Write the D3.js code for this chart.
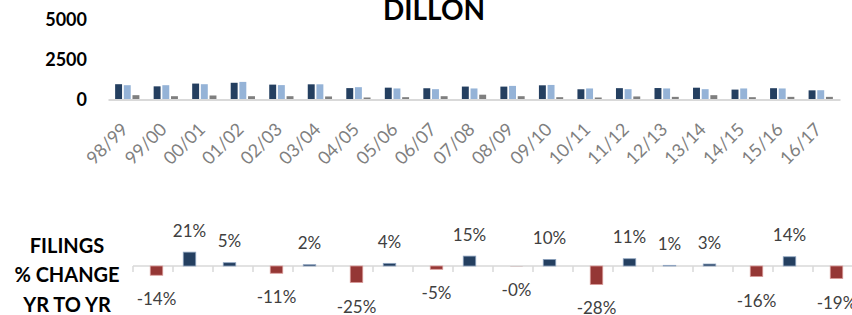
<!DOCTYPE html>
<html>
<head>
<meta charset="utf-8">
<script src="https://cdn.jsdelivr.net/npm/d3@7"></script>
<style>
  body { margin: 0; background: #fff; }
  text { font-family: Lato, "Open Sans", sans-serif; }
</style>
</head>
<body>
<div id="chart"></div>
<script>
// Data
let years = ["98/99", "99/00", "00/01", "01/02", "02/03", "03/04", "04/05", "05/06", "06/07", "07/08",
    "08/09", "09/10", "10/11", "11/12", "12/13", "13/14", "14/15", "15/16", "16/17"];
let seriesNames = ["filed", "disposed", "pending"];
let filed = [956, 822, 995, 1045, 930, 949, 712, 740, 703, 808, 806, 887, 639, 709, 716, 737, 619, 706, 572];
let disposed = [894, 894, 956, 1100, 900, 950, 770, 690, 645, 690, 850, 910, 690, 645, 690, 645, 690, 690, 580];
let pending = [270, 206, 250, 206, 206, 190, 125, 145, 206, 300, 206, 145, 125, 190, 165, 270, 145, 165, 165];
let yTicks = [0, 2500, 5000];

// year-to-year % change in filings (99/00 .. 16/17)
let changeYears = years.slice(1);
let pctChange = [-14, 21, 5, -11, 2, -25, 4, -5, 15, -0.2, 10, -28, 11, 1, 3, -16, 14, -19];

let colors = { filed: "#243f60", disposed: "#95b3d7", pending: "#7f7f7f" };

let svgWidth = 852;
let svgHeight = 315;

let svg = d3.select("#chart")
    .append("svg")
    .attr("width", svgWidth)
    .attr("height", svgHeight);

// ---- top chart ----
let rows = years.map((y, i) => ({ year: y, filed: filed[i], disposed: disposed[i], pending: pending[i] }));

let x0 = d3.scaleBand()
    .domain(years)
    .range([108, 840])
    .paddingInner(0.37)
    .paddingOuter(0.185);

let x1 = d3.scaleBand()
    .domain(seriesNames)
    .range([0, x0.bandwidth()])
    .paddingInner(0.2);

let yTop = d3.scaleLinear()
    .domain([0, 5000])
    .range([99.5, 19.5]);

svg.append("text")
    .attr("x", 434)
    .attr("y", 20)
    .attr("text-anchor", "middle")
    .attr("font-size", 28)
    .attr("font-weight", "bold")
    .attr("fill", "#000")
    .text("DILLON");

// y axis labels (no line, no ticks)
svg.append("g")
    .selectAll("text")
    .data(yTicks)
    .join("text")
    .attr("x", 87)
    .attr("y", d => yTop(d))
    .attr("dy", "0.36em")
    .attr("text-anchor", "end")
    .attr("font-size", 18)
    .attr("font-weight", "bold")
    .attr("fill", "#000")
    .text(d => d);

let groups = svg.append("g")
    .selectAll("g")
    .data(rows)
    .join("g")
    .attr("transform", d => `translate(${x0(d.year)},0)`);

groups.selectAll("rect")
    .data(d => seriesNames.map(k => ({ key: k, value: d[k] })))
    .join("rect")
    .attr("x", d => x1(d.key))
    .attr("y", d => yTop(d.value))
    .attr("width", x1.bandwidth())
    .attr("height", d => yTop(0) - yTop(d.value))
    .attr("fill", d => colors[d.key]);

// x axis: light line, rotated labels
let xAxisTop = svg.append("g")
    .attr("transform", `translate(0, ${yTop(0)})`)
    .call(d3.axisBottom(x0).tickSize(0).tickSizeOuter(0).tickPadding(0));

xAxisTop.select(".domain")
    .attr("stroke", "#d9d9d9")
    .attr("stroke-width", 2);

xAxisTop.selectAll("text")
    .attr("font-size", 18)
    .attr("fill", "#7f7f7f")
    .attr("text-anchor", "end")
    .attr("dy", 0)
    .attr("y", 0)
    .attr("transform", "translate(2, 31) rotate(-45)");

// ---- bottom chart ----
let xB = d3.scaleBand()
    .domain(changeYears)
    .range([133, 853]);

let yB = d3.scaleLinear()
    .domain([-30, 30])
    .range([266 + 19.8, 266 - 19.8]);

let side = d3.scalePoint()
    .domain(["pos", "neg"])
    .range([-3.5, 3.5]);

let barW = 12.5;

let changes = changeYears.map((y, i) => ({ year: y, value: pctChange[i] }));

function label(v) {
    return (v < 0 ? "-" : "") + Math.abs(Math.round(v)) + "%";
}

function cx(d) {
    return xB(d.year) + xB.bandwidth() / 2 + side(d.value < 0 ? "neg" : "pos");
}

// axis line with ticks at the category edges
let xAxisB = svg.append("g")
    .attr("transform", `translate(0, ${yB(0)})`);

xAxisB.append("line")
    .attr("x1", xB.range()[0])
    .attr("x2", xB.range()[1])
    .attr("stroke", "#d9d9d9")
    .attr("stroke-width", 1.5);

xAxisB.selectAll(".tick")
    .data(changeYears.concat(["end"]))
    .join("line")
    .attr("class", "tick")
    .attr("x1", d => d === "end" ? xB.range()[1] : xB(d))
    .attr("x2", d => d === "end" ? xB.range()[1] : xB(d))
    .attr("y1", 0)
    .attr("y2", 6)
    .attr("stroke", "#d9d9d9")
    .attr("stroke-width", 1.5);

svg.append("g")
    .selectAll("rect")
    .data(changes)
    .join("rect")
    .attr("x", d => cx(d) - barW / 2)
    .attr("y", d => yB(Math.max(0, d.value)))
    .attr("width", barW)
    .attr("height", d => Math.abs(yB(d.value) - yB(0)))
    .attr("fill", d => d.value < 0 ? "#953735" : "#243f60")
    .attr("stroke", d => d.value < 0 ? "#d99a98" : "#8ea3bf")
    .attr("stroke-width", d => Math.abs(d.value) < 0.5 ? 0 : 0.8);

svg.append("g")
    .selectAll("text")
    .data(changes)
    .join("text")
    .attr("x", d => cx(d))
    .attr("y", d => d.value < 0 ? yB(d.value) + 30 : yB(d.value) - 15.5)
    .attr("text-anchor", "middle")
    .attr("font-size", 17)
    .attr("fill", "#404040")
    .text(d => label(d.value));

let sideTitle = ["FILINGS", "% CHANGE", "YR TO YR"];
svg.append("g")
    .selectAll("text")
    .data(sideTitle)
    .join("text")
    .attr("x", 67)
    .attr("y", (d, i) => 252.7 + i * 29.5)
    .attr("text-anchor", "middle")
    .attr("font-size", 20)
    .attr("font-weight", "bold")
    .attr("fill", "#000")
    .text(d => d);
</script>
</body>
</html>
